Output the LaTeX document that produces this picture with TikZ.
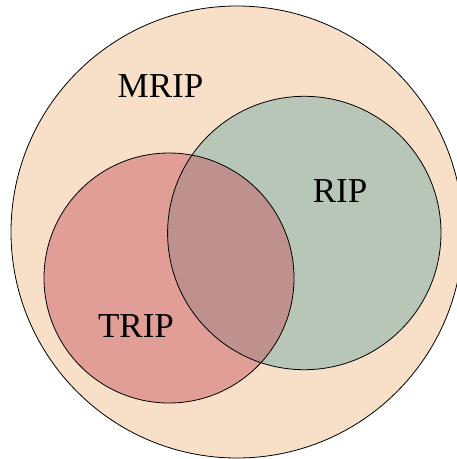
\documentclass[tikz,border=0pt]{standalone}
\usepackage{fontspec}
\setmainfont{Liberation Serif}
\definecolor{outerfill}{RGB}{248,224,200}
\definecolor{ripfill}{RGB}{183,198,182}
\definecolor{tripfill}{RGB}{224,158,150}
\definecolor{bothfill}{RGB}{191,145,142}
\begin{document}
\begin{tikzpicture}[x=1pt,y=-1pt,
  ring/.style={draw=black,line width=0.8pt},
  setlabel/.style={anchor=base,inner sep=0pt,font=\fontsize{35}{40}\selectfont}]
\useasboundingbox (0,0) rectangle (457,459);
% outer set
\fill[outerfill] (237,232) circle[radius=226];
\draw[ring] (237,232) circle[radius=226];
% the two inner sets
\fill[ripfill] (304.3,233) circle[radius=136.7];
\fill[tripfill] (169,278) circle[radius=125];
\begin{scope}
  \clip (304.3,233) circle[radius=136.7];
  \fill[bothfill] (169,278) circle[radius=125];
\end{scope}
\draw[ring] (304.3,233) circle[radius=136.7];
\draw[ring] (169,278) circle[radius=125];
% labels
\node[setlabel] (mrip) at (160.5,97) {MRIP};
\node[setlabel] (rip) at (340,202) {RIP};
\node[setlabel] (trip) at (136,337) {TRIP};
\end{tikzpicture}
\end{document}
